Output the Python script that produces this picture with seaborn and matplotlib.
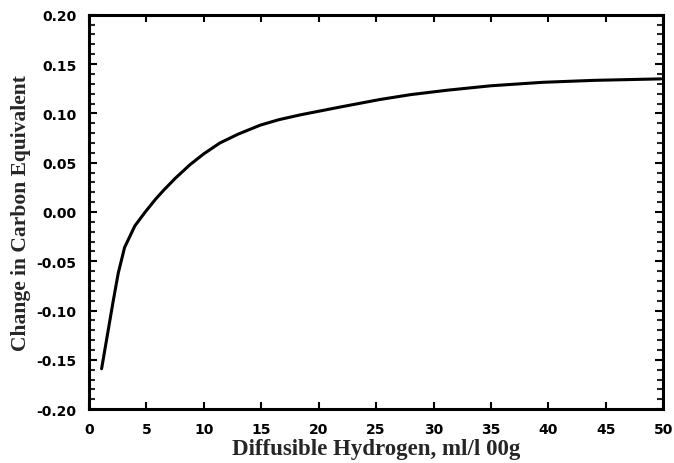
import matplotlib
matplotlib.use("Agg")
import matplotlib.pyplot as plt
import seaborn as sns
import pandas as pd
from matplotlib.ticker import MultipleLocator

# Data
hydrogen = [1.1, 1.6, 2.1, 2.55, 3.1, 4.0, 4.9, 5.8, 6.5, 7.5, 8.8, 10.0,
            11.4, 13.0, 14.9, 16.5, 18.4, 21.9, 25.3, 28.0, 31.2, 35.0,
            39.5, 44.0, 49.8]
delta_ce = [-0.159, -0.125, -0.091, -0.062, -0.036, -0.014, 0.000, 0.013,
            0.022, 0.034, 0.048, 0.059, 0.070, 0.079, 0.088, 0.0935, 0.0985,
            0.1065, 0.114, 0.119, 0.1235, 0.128, 0.1315, 0.1335, 0.135]

x_ticks = [0, 5, 10, 15, 20, 25, 30, 35, 40, 45, 50]
x_tick_labels = ["0", "5", "10", "15", "20", "25", "30", "35", "40", "45", "50"]
y_ticks = [-0.20, -0.15, -0.10, -0.05, 0.00, 0.05, 0.10, 0.15, 0.20]
y_tick_labels = ["-0.20", "-0.15", "-0.10", "-0.05", "0.00", "0.05", "0.10", "0.15", "0.20"]

x_label = "Diffusible Hydrogen, ml/l 00g"
y_label = "Change in Carbon Equivalent"

df = pd.DataFrame({"h": hydrogen, "ce": delta_ce})

sns.set_style("ticks")
fig = plt.figure(figsize=(6.74, 4.64), dpi=100)
ax = fig.add_axes([0.132, 0.116, 0.852, 0.850])

sns.lineplot(data=df, x="h", y="ce", ax=ax, color="black", linewidth=2.2)

tick_font = dict(fontfamily="DejaVu Sans", fontweight="bold", fontsize=10)
ax.set_xlim(0, 50)
ax.set_ylim(-0.20, 0.20)
ax.set_xticks(x_ticks)
ax.set_xticklabels(x_tick_labels, **tick_font)
ax.set_yticks(y_ticks)
ax.set_yticklabels(y_tick_labels, **tick_font)
ax.yaxis.set_minor_locator(MultipleLocator(0.01))

ax.tick_params(axis="x", which="major", direction="in", length=5, width=1.5,
               top=True, bottom=True, pad=9, colors="black")
ax.tick_params(axis="y", which="major", direction="in", length=6, width=1.5,
               left=True, right=True, pad=9, colors="black")
ax.tick_params(axis="y", which="minor", direction="in", length=4, width=1.5,
               left=True, right=True)

for s in ax.spines.values():
    s.set_visible(True)
    s.set_linewidth(2.2)
    s.set_color("black")

ax.set_xlabel(x_label, fontfamily="Liberation Serif", fontweight="bold", fontsize=16.5, labelpad=2)
ax.set_ylabel(y_label, fontfamily="Liberation Serif", fontweight="bold", fontsize=15.5, labelpad=4)

fig.savefig("out.png", dpi=100, facecolor="white")
